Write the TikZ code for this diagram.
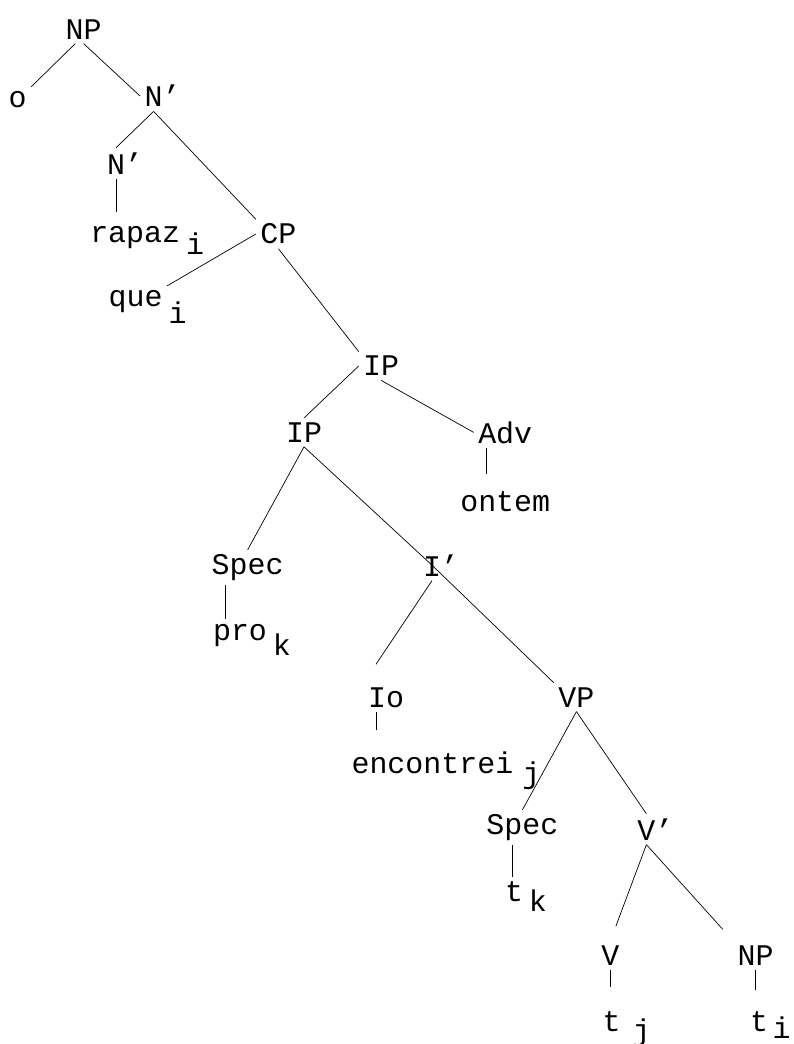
\documentclass[tikz,border=0pt]{standalone}
\usepackage{fontspec}
\setmainfont{Liberation Mono}
\usepackage{tikz}

% index after a word, lowered, kept out of the node box
\newcommand{\idx}[2][0.4em]{\rlap{\raisebox{-#1}[0pt][0pt]{\hspace{0.2em}#2}}}
\newcommand{\prm}{\rlap{’}}

\begin{document}
\begin{tikzpicture}[
        line width=0.5pt,
        every node/.style={inner sep=3pt, font=\fontsize{21.3pt}{25pt}\selectfont},
        stem/.style={shorten >=#1},
    ]
    \useasboundingbox (0cm, 0cm) rectangle (19.825cm, -26.1cm);

    \node (np)    at (2.09cm, -0.73cm)   {NP};
    \node (o)     at (0.44cm, -2.49cm)   {o};
    \node (n1)    at (3.84cm, -2.40cm)   {N\prm};
    \node (n2)    at (2.90cm, -4.08cm)   {N\prm};
    \node (rapaz) at (3.38cm, -5.93cm)   {rapaz\idx{i}};
    \node (cp)    at (6.96cm, -5.85cm)   {CP};
    \node (que)   at (3.39cm, -7.54cm)   {que\idx[0.55em]{i}};

    \node (ip1)   at (9.53cm, -9.15cm)   {IP};
    \node (ip2)   at (7.60cm, -10.81cm)  {IP};
    \node (adv)   at (12.63cm, -10.81cm) {Adv};
    \node (ontem) at (12.63cm, -12.54cm) {ontem};
    \node (spec1) at (6.19cm, -14.19cm)  {Spec};
    \node (i1)    at (10.80cm, -14.13cm) {I\prm};
    \node (pro)   at (6.00cm, -15.88cm)  {pro\idx[0.5em]{k}};

    \node (io)    at (9.65cm, -17.44cm)  {Io};
    \node (vp)    at (14.41cm, -17.43cm) {VP};
    \node (enc)   at (10.81cm, -19.06cm) {encontrei\idx[0.35em]{\hspace{0.1em}j}};
    \node (spec2) at (13.06cm, -20.69cm) {Spec};
    \node (v1)    at (16.16cm, -20.73cm) {V\prm};
    \node (tk)    at (12.85cm, -22.28cm) {t\idx[0.35em]{k}};
    \node (v)     at (15.26cm, -23.88cm) {V};
    \node (np2)   at (18.89cm, -23.88cm) {NP};
    \node (tj)    at (15.29cm, -25.54cm) {t\idx[0.3em]{\hspace{0.2em}j}};
    \node (ti)    at (18.98cm, -25.54cm) {t\idx[0.25em]{\hspace{-0.05em}i}};

    \draw (np.240) -- (o.north east);
    \draw (np.south) -- (n1.west);
    \draw (n1.south) -- (n2.north);
    \draw (n1.south) -- (cp.north west);
    \draw[stem=7pt] (n2.south) -- (n2.south |- rapaz.north);
    \draw (cp.west) -- (que.north east);
    \draw (cp.south) -- (ip1.north west);

    \draw (ip1.west) -- (ip2.north);
    \draw (ip1.south) -- (adv.west);
    \draw[stem=9pt] (adv.220) -- (adv.220 |- ontem.north);
    \draw (ip2.south) -- (spec1.north);
    \draw (ip2.south) -- (i1.center);
    \draw (i1.center) -- (vp.north west);
    \draw[stem=16pt] (i1.south) -- (io.north west);
    \draw[stem=12pt] (io.236) -- (io.236 |- enc.north);
    \draw (spec1.219) -- (spec1.219 |- pro.north);

    \draw (vp.south) -- (spec2.north);
    \draw (vp.south) -- (v1.north);
    \draw (spec2.241) -- (spec2.241 |- tk.north);
    \draw[stem=11pt] (v1.south) -- (v.north);
    \draw[stem=11pt] (v1.south) -- (np2.north west);
    \draw[stem=14pt] (v.south) -- (v.south |- tj.north);
    \draw[stem=12pt] (np2.south) -- (np2.south |- ti.north);

    \end{tikzpicture}
\end{document}
